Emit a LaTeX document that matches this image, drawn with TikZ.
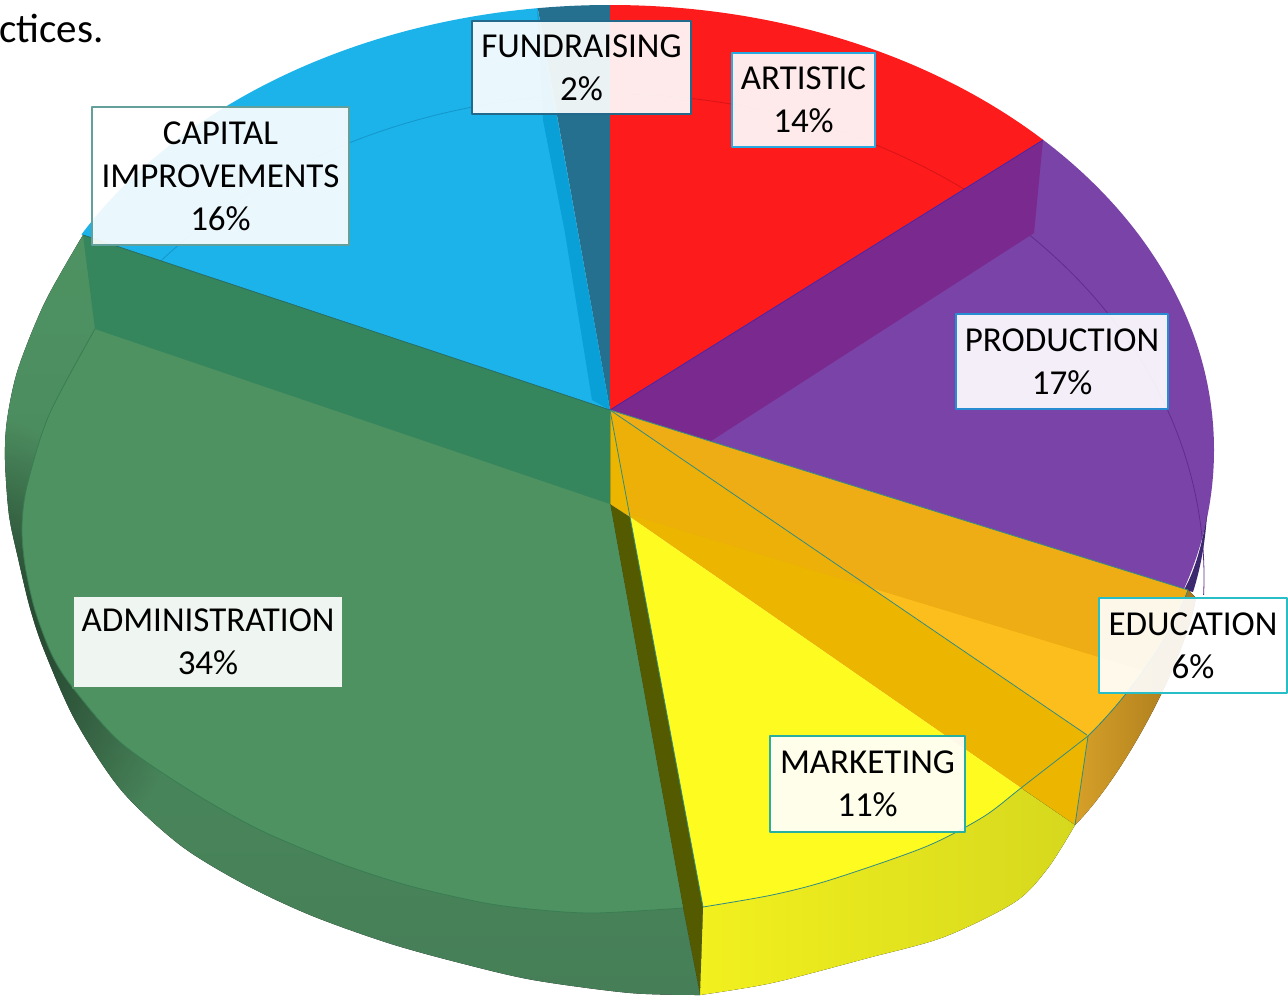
\documentclass[tikz,border=0pt]{standalone}
\usepackage{fontspec}
\setmainfont{Carlito}
\usetikzlibrary{fadings}
\tikzfading[name=radfade, inner color=transparent!0, outer color=transparent!100]
\definecolor{bluec}{RGB}{27,179,233}
\definecolor{bluestrip}{RGB}{8,160,214}
\definecolor{fundc}{RGB}{38,112,143}
\definecolor{redc}{RGB}{253,27,28}
\definecolor{purc}{RGB}{122,67,168}
\definecolor{purdk}{RGB}{122,41,143}
\definecolor{pursliver}{RGB}{60,40,110}
\definecolor{amberc}{RGB}{235,181,0}
\definecolor{amberb}{RGB}{236,176,8}
\definecolor{orgmed}{RGB}{238,173,20}
\definecolor{orglight}{RGB}{251,190,28}
\definecolor{bronzeL}{RGB}{214,160,40}
\definecolor{bronzeR}{RGB}{165,118,28}
\definecolor{yelc}{RGB}{253,251,32}
\definecolor{yelsL}{RGB}{242,240,30}
\definecolor{yelsR}{RGB}{214,216,30}
\definecolor{olivec}{RGB}{84,90,0}
\definecolor{grntop}{RGB}{78,146,98}
\definecolor{grnside}{RGB}{70,127,87}
\definecolor{grnband}{RGB}{53,134,92}
\definecolor{bluebev}{RGB}{20,150,205}
\definecolor{redbev}{RGB}{215,20,25}
\definecolor{purbev}{RGB}{95,45,140}
\definecolor{grnbev}{RGB}{58,125,82}
\definecolor{tealine}{RGB}{50,140,130}
\definecolor{bdfund}{RGB}{35,105,140}
\definecolor{bdart}{RGB}{40,170,225}
\definecolor{bdcap}{RGB}{100,160,155}
\definecolor{bdprod}{RGB}{40,140,210}
\definecolor{bdedu}{RGB}{40,190,200}
\definecolor{bdmkt}{RGB}{40,175,160}
\definecolor{bdadm}{RGB}{80,145,100}
\begin{document}
\begin{tikzpicture}[x=1pt,y=-1pt,line join=round,
  lbl/.style={draw, line width=2.4pt, fill=white, fill opacity=0.91, text opacity=1,
    text=black, font=\fontsize{35}{43}\selectfont, align=center, inner sep=0pt},
  sliceedge/.style={line width=0.8pt},
  bev/.style={line width=0.8pt}]
\useasboundingbox (0,0) rectangle (1288,1001);
\coordinate (O) at (610,410);
\def\mainell{(610,450) ellipse [x radius=604pt, y radius=445pt]}
\def\bevell{(610,577) ellipse [x radius=594pt, y radius=483pt]}

% capital improvements (blue)
\begin{scope}
  \clip (610,410) -- (464,-402) -- (-500,-402) -- (-444,60) -- cycle;
  \fill[bluec] \mainell;
  \draw[bev, bluebev] \bevell;
\end{scope}
% fundraising
\begin{scope}
  \clip (610,410) -- (464,-402) -- (610,-402) -- cycle;
  \fill[fundc] \mainell;
\end{scope}
\fill[bluestrip] (537,8) -- (543,120) -- (565,233) -- (592,400) -- (610,410) -- cycle;
% artistic (red)
\begin{scope}
  \clip (610,410) -- (610,-402) -- (1500,-402) -- (1476,-130) -- cycle;
  \fill[redc] \mainell;
  \draw[bev, redbev] \bevell;
\end{scope}
% production (purple)
\begin{scope}
  \clip (610,410) -- (1476,-130) -- (1900,-130) -- (1900,780) -- (1766,770) -- cycle;
  \fill[purc] \mainell;
  \draw[bev, purbev] \bevell;
\end{scope}
\fill[purdk] (610,410) -- (1043,140) -- (1034,233) -- (711,441) -- cycle;
\fill[pursliver] (1184,590) -- (1193,592) .. controls (1200,570) and (1205,545) .. (1207,515)
   .. controls (1202,545) and (1195,570) .. (1184,590) -- cycle;

% education / marketing orange area
\def\orpath{(610,410) -- (1188,590) .. controls (1170,640) and (1125,700) .. (1088,736)
   -- (1021,788) -- (630,517) -- (610,504) -- cycle}
\begin{scope}
  \clip \orpath;
  \fill[amberc] (0,0) rectangle (1288,1001);
  \fill[amberb] (610,410) -- (871,588) -- (631,515) -- cycle;
  \fill[orgmed] (610,410) -- (1800,781) -- (1800,870) -- (871,588) -- cycle;
  \fill[orglight] (871,588) -- (1800,870) -- (1800,1100) -- (1564,1060) -- cycle;
\end{scope}
% bronze side wall
\fill[left color=bronzeL, right color=bronzeR] (1088,736) .. controls (1125,700) and (1170,640) .. (1188,590)
   -- (1196,598) .. controls (1185,660) and (1125,775) .. (1075,825) -- cycle;
\fill[amberc] (1021,788) -- (1088,736) -- (1075,825) -- cycle;
% marketing (yellow) side wall
\fill[left color=yelsL, right color=yelsR] (703,907) -- plot[smooth] coordinates {(703,907) (772,895) (830,880) (925,847) (983,817) (1021,788)}
   -- (1075,825) -- plot[smooth] coordinates {(1075,825) (1048,868) (1015,902) (944,937) (868,958) (772,983) (700,995)} -- cycle;
% marketing top
\fill[yelc] (630,517) -- (703,907) -- plot[smooth] coordinates {(703,907) (772,895) (830,880) (925,847) (983,817) (1021,788)} -- cycle;
% olive wall
\fill[olivec] (610,504) -- (630,517) -- (703,907) -- (700,995) -- (683,908) -- cycle;

% administration (green)
\def\grnshape{(610,410) -- (83,235) -- plot[smooth] coordinates {(83,235) (45,302) (18,369) (7,420) (5,460) (9,515) (18,558) (30,608) (44,650) (75,720) (121,790) (180,845) (242,883) (310,915) (388,943) (460,963) (533,980) (630,993) (700,995)} -- (683,908) -- (610,504) -- cycle}
\fill[top color=grntop, bottom color=grnside] \grnshape;
\begin{scope}
  \clip \grnshape;
  \fill[black, opacity=0.75, path fading=radfade] (-60,660) circle (250pt);
\end{scope}
\fill[grntop] (95,329) -- plot[smooth] coordinates {(95,329) (49,415) (27,486) (22,527) (25,565) (35,610) (52,655) (73,688) (120,742) (189,790) (260,830) (339,863) (410,886) (485,903) (540,910) (596,913) (683,908)} -- (610,504) -- cycle;
\draw[bev, grnbev] plot[smooth] coordinates {(95,329) (49,415) (27,486) (22,527) (25,565) (35,610) (52,655) (73,688) (120,742) (189,790) (260,830) (339,863) (410,886) (485,903) (540,910) (596,913) (683,908)};
\fill[grnband] (610,410) -- (83,235) -- (95,329) -- (610,504) -- cycle;

% slice edges
\draw[sliceedge, color=tealine!80!black] (O) -- (83,235);
\draw[sliceedge, color=purbev!80!blue] (O) -- (1043,140);
\draw[sliceedge, color=tealine] (O) -- (1188,590);
\draw[sliceedge, color=tealine] (O) -- (1087,735);
\draw[sliceedge, color=tealine] (O) -- (630,517) -- (703,907);
\draw[bev, tealine] plot[smooth] coordinates {(703,907) (772,895) (830,880) (925,847) (983,817) (1021,788) (1088,736)};
\draw[bev, tealine] (1088,736) .. controls (1125,700) and (1170,640) .. (1188,590);
\draw[bev, tealine] (1088,736) -- (1075,825);

% labels
\node[lbl, draw=bdfund, minimum width=219pt, minimum height=93pt] (fund) at (581.5,67.5) {FUNDRAISING\\2\%};
\node[lbl, draw=bdart, minimum width=143pt, minimum height=94pt] (art) at (803.5,100) {ARTISTIC\\14\%};
\node[lbl, draw=bdcap, minimum width=257pt, minimum height=138pt] (cap) at (220.5,176) {CAPITAL\\IMPROVEMENTS\\16\%};
\node[lbl, draw=bdprod, minimum width=212pt, minimum height=95pt] (prod) at (1062,361.5) {PRODUCTION\\17\%};
\node[lbl, draw=bdedu, minimum width=188pt, minimum height=95pt] (edu) at (1193,645.5) {EDUCATION\\6\%};
\node[lbl, draw=bdmkt, minimum width=195pt, minimum height=96pt] (mkt) at (867.5,784) {MARKETING\\11\%};
\node[lbl, draw=bdadm, minimum width=270pt, minimum height=92pt] (adm) at (208,642) {ADMINISTRATION\\34\%};

\node[anchor=base west, inner sep=0pt, font=\fontsize{41}{49}\selectfont, text=black] (ctices) at (-1,42) {ctices.};
\end{tikzpicture}
\end{document}
